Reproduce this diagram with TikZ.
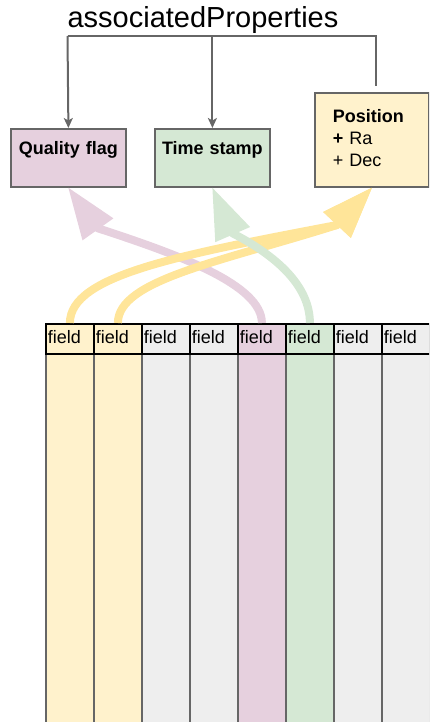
\documentclass[tikz,border=0pt]{standalone}
\usepackage{fontspec}
\setmainfont{Liberation Sans}
\usetikzlibrary{arrows.meta}
\definecolor{edgegray}{HTML}{666666}
\definecolor{pinkfill}{HTML}{E6D0DE}
\definecolor{greenfill}{HTML}{D5E8D4}
\definecolor{yellowfill}{HTML}{FFF2CC}
\definecolor{greyfill}{HTML}{EEEEEE}
\definecolor{yellowflow}{HTML}{FFE599}
\begin{document}
\begin{tikzpicture}[x=1pt,y=-1pt,
  prop/.style={draw=edgegray,line width=1.8pt,inner sep=0pt,anchor=north west,
    font=\fontsize{18}{22}\selectfont},
  propname/.style={prop,font=\fontsize{18}{22}\selectfont\bfseries,
    text width=115pt,align=center,text height=26pt,text depth=32pt},
  link/.style={draw=edgegray,line width=2pt,
    -{Stealth[length=10pt,width=9pt,inset=2.5pt]}},
  bus/.style={draw=edgegray,line width=2pt},
  flow/.style={line width=8pt,line join=round,
    -{Triangle[length=51pt,width=38pt,line width=0pt]}},
  head/.style={draw=black,line width=1.8pt,anchor=north west,inner xsep=2pt,
    inner ysep=0pt,text width=44pt,text height=20pt,text depth=10pt,align=left,
    font=\fontsize{18}{20}\selectfont},
  body/.style={draw=edgegray,line width=1.8pt,anchor=north west,
    minimum width=48pt,minimum height=400pt,inner sep=0pt},
]
\useasboundingbox (0,0) rectangle (429,722);
\clip (0,0) rectangle (429,722);

% heading and the three property boxes
\node[font=\fontsize{29}{34}\selectfont,anchor=base] (title) at (203,28) {associatedProperties};
\node[propname,fill=pinkfill] (qf) at (10,128) {Quality flag};
\node[propname,fill=greenfill] (ts) at (154,128) {Time stamp};
\node[prop,fill=yellowfill,inner xsep=18pt,text width=78pt,align=left,
  text height=30pt,text depth=64pt] (pos) at (314,92)
  {\textbf{Position}\\\textbf{+} Ra\\+ Dec};

% bracket from the heading down to the boxes
\coordinate (busL) at (67.5,36);
\coordinate (busR) at (376,36);
\coordinate (posStub) at (376,86);
\draw[bus] (busL) -- (busR) -- (posStub);
\draw[link] (busL) -- (qf.north);
\draw[link] (busL -| ts.north) -- (ts.north);

% table columns
\foreach \i/\c in {0/yellowfill,1/yellowfill,2/greyfill,3/greyfill,
                   4/pinkfill,5/greenfill,6/greyfill,7/greyfill}
  \node[body,fill=\c] (c\i) at (45+48*\i,353) {};
\foreach \i/\c in {0/yellowfill,1/yellowfill,2/greyfill,3/greyfill,
                   4/pinkfill,5/greenfill,6/greyfill,7/greyfill}
  \node[head,fill=\c] (f\i) at (45+48*\i,323) {field};

% fields mapped onto the properties
\draw[flow,pinkfill] (f4.north) .. controls +(0,-38) and (180,255) .. (97,228) -- (qf.south);
\draw[flow,yellowflow] (f0.north) .. controls +(0,-48) and (180,255) .. (337,225) -- (pos.south);
\draw[flow,yellowflow] (f1.north) .. controls +(0,-43) and (220,262) .. (337,225) -- (pos.south);
\draw[flow,greenfill] (f5.north) .. controls +(0,-38) and (275,255) .. (232,233) -- (ts.south);
\end{tikzpicture}
\end{document}
